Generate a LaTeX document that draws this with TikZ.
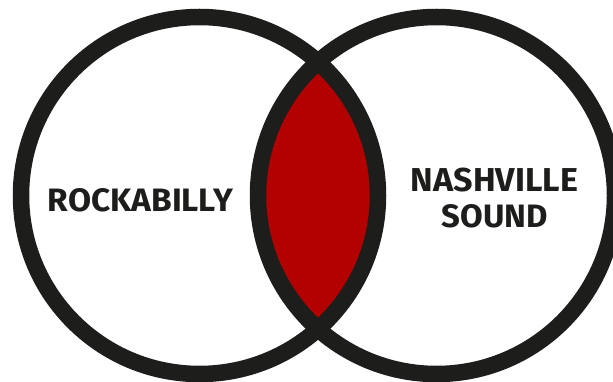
\documentclass[tikz,border=0pt]{standalone}
\usepackage{fontspec}
\setmainfont{Fira Sans}
\usepackage{graphicx}
\definecolor{ink}{HTML}{1D1D1B}
\definecolor{lensred}{HTML}{B30000}
\tikzset{
  ring/.style={draw=ink, line width=16.5pt},
  label/.style={inner sep=0pt, text=ink, font=\bfseries},
}
\begin{document}
\begin{tikzpicture}[x=1pt,y=-1pt]
\useasboundingbox (0,0) rectangle (613,382);
\fill[white] (0,0) rectangle (613,382);
\begin{scope}
  \clip (199.5,195.5) circle[radius=178.5];
  \fill[lensred] (436.5,195.5) circle[radius=178.5];
\end{scope}
\draw[ring] (199.5,195.5) circle[radius=178.5];
\draw[ring] (436.5,195.5) circle[radius=178.5];
\node[label] (rock) at (140.5,200.5) {\resizebox{185pt}{23pt}{ROCKABILLY}};
\node[label] (nash) at (494.5,180) {\resizebox{167pt}{23.5pt}{NASHVILLE}};
\node[label] (sound) at (495,216.5) {\resizebox{106pt}{23pt}{SOUND}};
\end{tikzpicture}
\end{document}
